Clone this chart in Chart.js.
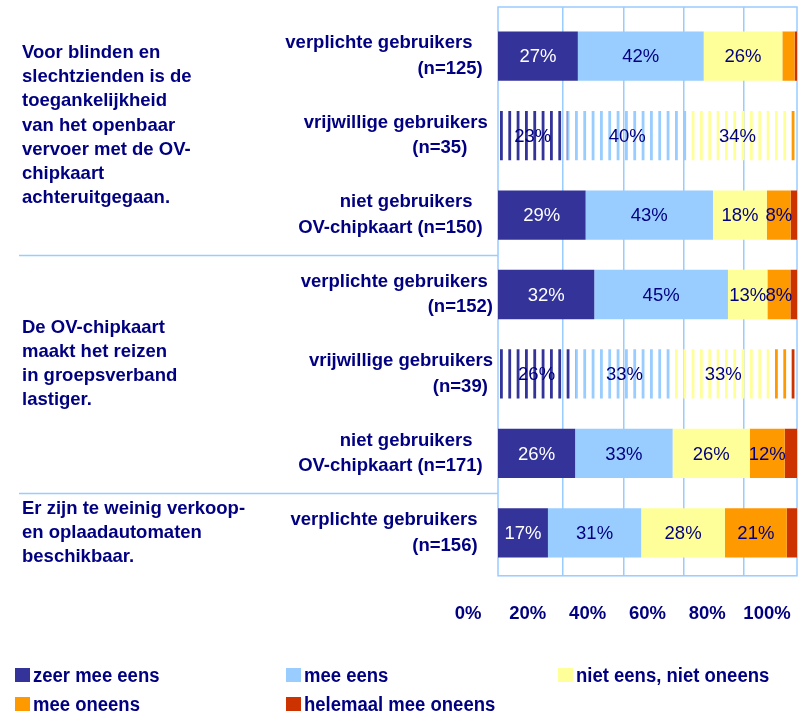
<!DOCTYPE html>
<html>
<head>
<meta charset="utf-8">
<script src="https://cdn.jsdelivr.net/npm/chart.js@4.4.0/dist/chart.umd.min.js"></script>
<style>
  html, body { margin: 0; padding: 0; background: #fff; }
  #wrap { position: relative; width: 807px; height: 713px; }
  #legend {
    position: absolute; left: 15px; top: 664px;
    display: grid; grid-template-columns: 271px 272px auto; grid-auto-rows: 29px;
    font: bold 18.5px "Liberation Sans", Arial, sans-serif; color: #000080;
  }
  .item { display: flex; align-items: center; white-space: nowrap; height: 22px; }
  .box { width: 15px; height: 14px; margin-right: 3px; flex: none; }
  .item span { display: inline-block; transform: scaleY(1.12); }
</style>
</head>
<body>
<div id="wrap">
  <canvas id="myChart"></canvas>
  <div id="legend"></div>
</div>
<script>
const NB = "\u00a0";
const rowLabels = [
  ["verplichte gebruikers" + NB.repeat(4), "(n=125)" + NB.repeat(2)],
  ["vrijwillige gebruikers" + NB, "(n=35)" + NB.repeat(5)],
  ["niet gebruikers" + NB.repeat(4), "OV-chipkaart (n=150)" + NB.repeat(2)],
  ["verplichte gebruikers" + NB, "(n=152)"],
  ["vrijwillige gebruikers", "(n=39)" + NB],
  ["niet gebruikers" + NB.repeat(4), "OV-chipkaart (n=171)" + NB.repeat(2)],
  ["verplichte gebruikers" + NB.repeat(3), "(n=156)" + NB.repeat(3)],
];
// rows with the hatched (vrijwillige gebruikers) look
const optionalRows = [1, 4];

const groupText = [
  ["Voor blinden en", "slechtzienden is de", "toegankelijkheid", "van het openbaar", "vervoer met de OV-", "chipkaart", "achteruitgegaan."],
  ["De OV-chipkaart", "maakt het reizen", "in groepsverband", "lastiger."],
  ["Er zijn te weinig verkoop-", "en oplaadautomaten", "beschikbaar."],
];
const groupRows = [[0, 2], [3, 5], [6, 6]];

const seriesNames = ["zeer mee eens", "mee eens", "niet eens, niet oneens", "mee oneens", "helemaal mee oneens"];
const zeerMeeEens     = [26.7, 23.2, 29.3, 32.2, 25.8, 25.8, 16.7];
const meeEens         = [42.1, 40.0, 42.6, 44.7, 33.0, 32.6, 31.2];
const nietEens        = [26.3, 33.8, 18.0, 13.2, 33.0, 25.8, 28.0];
const meeOneens       = [4.1, 2.5, 8.0, 7.7, 5.0, 11.7, 20.7];
const helemaalOneens  = [0.8, 0.5, 2.1, 2.2, 3.2, 4.1, 3.4];
const seriesColors = ["#333399", "#99ccff", "#ffff99", "#ff9900", "#cc3300"];
const xTicks = [0, 20, 40, 60, 80, 100];

const NAVY = "#000080";
const GRID = "#99ccff";
Chart.defaults.font.family = '"Liberation Sans", Arial, sans-serif';

function stripes(color) {
  const c = document.createElement("canvas");
  c.width = 25; c.height = 10;
  const g = c.getContext("2d");
  g.fillStyle = color;
  [0, 8.33, 16.67].forEach(x0 => g.fillRect(x0, 0, 2.8, 10));
  return g.createPattern(c, "repeat");
}

const allSeries = [zeerMeeEens, meeEens, nietEens, meeOneens, helemaalOneens];
const datasets = allSeries.map((vals, i) => {
  const pat = stripes(seriesColors[i]);
  return {
    label: seriesNames[i],
    data: vals.map((v, j) => ({ x: v, y: j })),
    backgroundColor: c => optionalRows.includes(c.dataIndex) ? pat : seriesColors[i],
    borderWidth: 0,
    categoryPercentage: 1,
    barPercentage: 0.62,
  };
});

const frame = {
  id: "frame",
  beforeDatasetsDraw(chart) {
    const { ctx, chartArea: a } = chart;
    ctx.save();
    ctx.strokeStyle = GRID;
    ctx.lineWidth = 1.5;
    ctx.strokeRect(a.left, a.top, a.right - a.left, a.bottom - a.top);
    ctx.restore();
  },
  afterDraw(chart) {
    const { ctx, chartArea: a } = chart;
    const y = chart.scales.y;
    ctx.save();
    ctx.strokeStyle = GRID;
    ctx.lineWidth = 1.5;
    ctx.fillStyle = NAVY;
    ctx.font = 'bold 18.5px "Liberation Sans", Arial, sans-serif';
    ctx.textAlign = "left";
    ctx.textBaseline = "middle";
    groupRows.forEach(([r0, r1], g) => {
      if (g < groupRows.length - 1) {
        const sy = Math.round(y.getPixelForValue(r1 + 0.5)) + 0.5;
        ctx.beginPath();
        ctx.moveTo(19, sy);
        ctx.lineTo(a.left, sy);
        ctx.stroke();
      }
      const lines = groupText[g];
      const mid = y.getPixelForValue((r0 + r1) / 2) - (r1 > r0 ? 10 : 0);
      lines.forEach((t, k) => {
        ctx.fillText(t, 22, mid + (k - (lines.length - 1) / 2) * 24.2);
      });
    });
    ctx.restore();
  },
};

const valueLabels = {
  id: "valueLabels",
  afterDatasetsDraw(chart) {
    const ctx = chart.ctx;
    ctx.save();
    ctx.font = '18.5px "Liberation Sans", Arial, sans-serif';
    ctx.textAlign = "center";
    ctx.textBaseline = "middle";
    chart.data.datasets.forEach((ds, i) => {
      chart.getDatasetMeta(i).data.forEach((bar, j) => {
        const v = Math.round(ds.data[j].x);
        if (v < 8) return;
        const p = bar.getProps(["x", "y", "base"], true);
        ctx.fillStyle = (i === 0 && !optionalRows.includes(j)) ? "#ffffff" : NAVY;
        ctx.fillText(v + "%", (p.x + p.base) / 2, p.y + 1);
      });
    });
    ctx.restore();
  },
};

const noPad = s => { s.paddingLeft = 0; s.paddingRight = 0; s.paddingTop = 0; s.paddingBottom = 0; };

const ctx = document.getElementById("myChart").getContext("2d");
const myChart = new Chart(ctx, {
  type: "bar",
  data: { datasets },
  options: {
    indexAxis: "y",
    responsive: true,
    maintainAspectRatio: false,
    animation: false,
    layout: { padding: { top: 7, right: 10, bottom: 61, left: 0 } },
    plugins: { legend: { display: false }, tooltip: { enabled: false } },
    scales: {
      x: {
        type: "linear", stacked: true, min: 0, max: 100,
        grid: { display: false, drawTicks: false },
        border: { display: false },
        afterBuildTicks: s => { s.ticks = xTicks.map(v => ({ value: v })); },
        afterFit: noPad,
        ticks: {
          color: NAVY, padding: 27, labelOffset: -30, maxRotation: 0, autoSkip: false,
          font: { size: 18.5, weight: "bold" },
          callback: v => v + "%",
        },
      },
      xg: {
        type: "linear", position: "bottom", min: -1.64, max: 97.56,
        grid: { color: c => c.tick && c.tick.value === 0 ? "rgba(0,0,0,0)" : GRID, lineWidth: 1.5, drawTicks: false },
        border: { display: false },
        afterFit: s => { noPad(s); s.height = 0; },
        ticks: { display: false, stepSize: 20, includeBounds: false },
      },
      y: {
        type: "linear", stacked: true, reverse: true, offset: false, min: -0.618, max: 6.54,
        grid: { display: false, drawTicks: false, offset: false },
        border: { display: false },
        afterFit: s => { noPad(s); s.width = 498; },
        ticks: {
          stepSize: 1, includeBounds: false, autoSkip: false, padding: 5, color: NAVY,
          font: { size: 18.5, weight: "bold", lineHeight: 1.38 },
          callback: v => Number.isInteger(v) ? rowLabels[v] : "",
        },
      },
    },
  },
  plugins: [frame, valueLabels],
});

// html legend built from the chart's datasets
const legendEl = document.getElementById("legend");
myChart.data.datasets.forEach((ds, i) => {
  const item = document.createElement("div");
  item.className = "item";
  const box = document.createElement("div");
  box.className = "box";
  box.style.background = seriesColors[i];
  const txt = document.createElement("span");
  txt.textContent = ds.label;
  item.appendChild(box);
  item.appendChild(txt);
  legendEl.appendChild(item);
});
</script>
</body>
</html>
